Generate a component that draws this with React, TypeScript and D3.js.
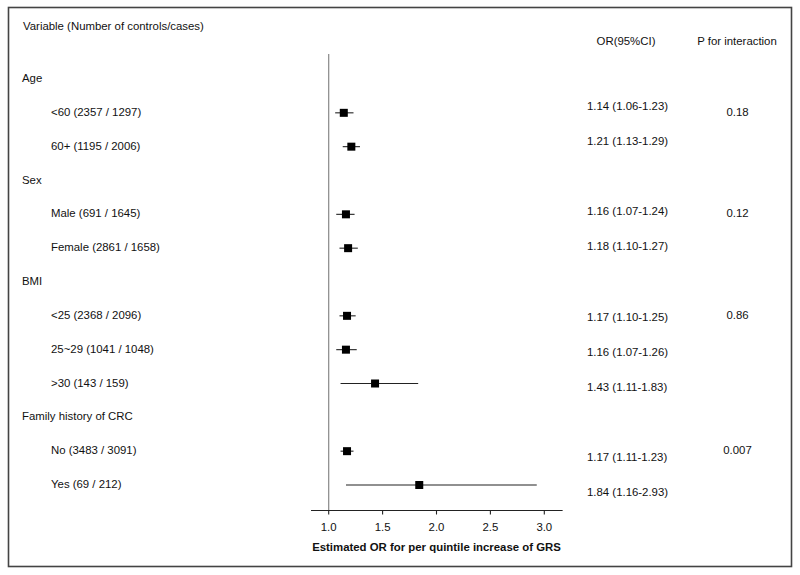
import React from "react";
import * as d3 from "d3";

const rowLabels = [
  "Age",
  "<60 (2357 / 1297)",
  "60+ (1195 / 2006)",
  "Sex",
  "Male (691 / 1645)",
  "Female (2861 / 1658)",
  "BMI",
  "<25 (2368 / 2096)",
  "25~29 (1041 / 1048)",
  ">30 (143 / 159)",
  "Family history of CRC",
  "No (3483 / 3091)",
  "Yes (69 / 212)",
];
const isHeader = [true, false, false, true, false, false, true, false, false, false, true, false, false];
const orValues: (number | null)[] = [null, 1.14, 1.21, null, 1.16, 1.18, null, 1.17, 1.16, 1.43, null, 1.17, 1.84];
const lowerCI: (number | null)[] = [null, 1.06, 1.13, null, 1.07, 1.10, null, 1.10, 1.07, 1.11, null, 1.11, 1.16];
const upperCI: (number | null)[] = [null, 1.23, 1.29, null, 1.24, 1.27, null, 1.25, 1.26, 1.83, null, 1.23, 2.93];
const orText = ["", "1.14 (1.06-1.23)", "1.21 (1.13-1.29)", "", "1.16 (1.07-1.24)", "1.18 (1.10-1.27)", "", "1.17 (1.10-1.25)", "1.16 (1.07-1.26)", "1.43 (1.11-1.83)", "", "1.17 (1.11-1.23)", "1.84 (1.16-2.93)"];
const pText = ["", "0.18", "", "", "0.12", "", "", "0.86", "", "", "", "0.007", ""];
const xTicks = [1.0, 1.5, 2.0, 2.5, 3.0];

const FONT = "'Liberation Sans', Arial, Helvetica, sans-serif";
const FS = 11.4;

export default function App() {
  const idx = rowLabels.map((_, i) => i);
  const x = d3.scaleLinear().domain([1, 3]).range([328.7, 544.3]);
  const y = d3.scalePoint<number>().domain(idx).range([79, 485]);
  const yText = d3.scalePoint<number>().domain(idx).range([71.9, 493]);
  const axisY = 510.5;
  const axisStart = x(0.836);
  const axisEnd = x(3.17);

  return (
    <svg width={800} height={575} style={{ position: "absolute", left: 0, top: 0, background: "#fff" }} fontFamily={FONT}>
      <rect x={8.5} y={7.5} width={783} height={559} fill="none" stroke="#444" strokeWidth={1.6} />
      <text x={23} y={27} fontSize={FS} fill="#111" dominantBaseline="middle">Variable (Number of controls/cases)</text>
      <text x={626} y={42} fontSize={FS} fill="#111" textAnchor="middle" dominantBaseline="middle">OR(95%CI)</text>
      <text x={737} y={42} fontSize={FS} fill="#111" textAnchor="middle" dominantBaseline="middle">P for interaction</text>

      <line x1={x(1)} x2={x(1)} y1={54} y2={axisY} stroke="#888" strokeWidth={1.2} />

      {idx.map((i) => (
        <text key={"l" + i} x={isHeader[i] ? 22 : 51} y={y(i)} fontSize={FS} fill="#111" dominantBaseline="middle">
          {rowLabels[i]}
        </text>
      ))}

      {idx.map((i) =>
        orValues[i] == null ? null : (
          <g key={"m" + i}>
            <line x1={x(lowerCI[i] as number)} x2={x(upperCI[i] as number)} y1={y(i)} y2={y(i)} stroke="#222" strokeWidth={1.1} />
            <rect x={x(orValues[i] as number) - 4} y={(y(i) as number) - 4} width={8} height={8} fill="#000" />
          </g>
        )
      )}

      {idx.map((i) =>
        orText[i] ? (
          <text key={"o" + i} x={587} y={yText(i)} fontSize={FS} fill="#111" dominantBaseline="middle">
            {orText[i]}
          </text>
        ) : null
      )}
      {idx.map((i) =>
        pText[i] ? (
          <text key={"p" + i} x={737.5} y={y(i)} fontSize={FS} fill="#111" textAnchor="middle" dominantBaseline="middle">
            {pText[i]}
          </text>
        ) : null
      )}

      <line x1={axisStart} x2={axisEnd} y1={axisY} y2={axisY} stroke="#222" strokeWidth={1.1} />
      {xTicks.map((t) => (
        <g key={"t" + t}>
          <line x1={x(t)} x2={x(t)} y1={axisY} y2={axisY + 4} stroke="#222" strokeWidth={1.1} />
          <text x={x(t)} y={528} fontSize={FS} fill="#111" textAnchor="middle" dominantBaseline="middle">
            {d3.format(".1f")(t)}
          </text>
        </g>
      ))}
      <text x={x(2)} y={548} fontSize={FS} fontWeight="bold" fill="#111" textAnchor="middle" dominantBaseline="middle">
        Estimated OR for per quintile increase of GRS
      </text>
    </svg>
  );
}
